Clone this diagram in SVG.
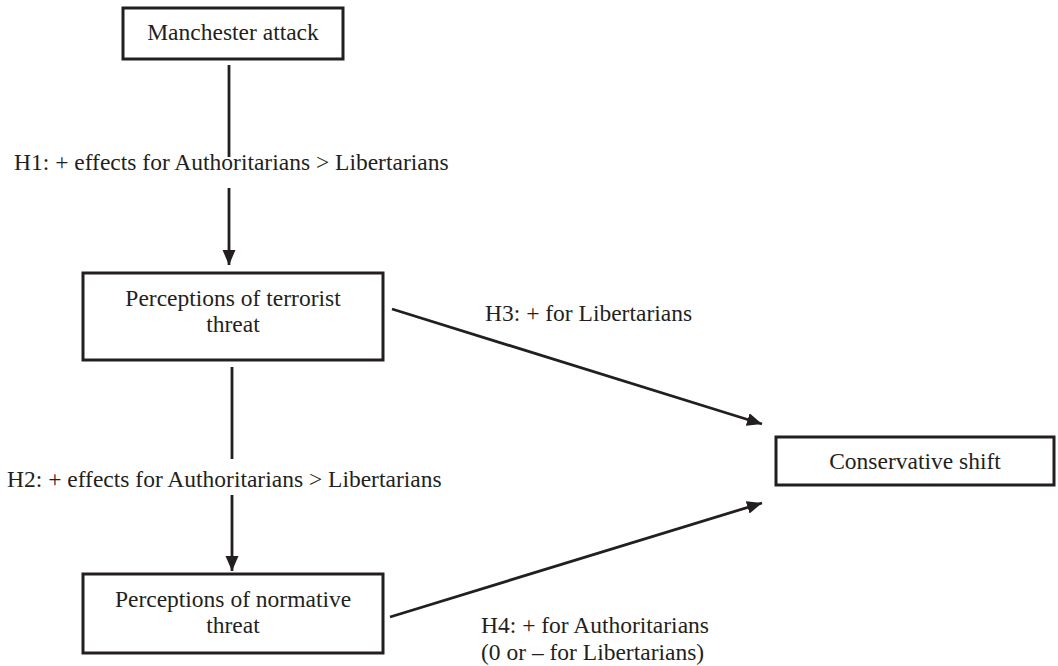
<svg xmlns="http://www.w3.org/2000/svg" width="1058" height="666" viewBox="0 0 1058 666">
<style>
.box{fill:#fff;stroke:#231f20;stroke-width:3}
text{font-family:'Liberation Serif','Times New Roman',serif;font-size:23.5px;fill:#231f20}
.c{text-anchor:middle}
.ln{stroke:#231f20;stroke-width:2.8;fill:none}
</style>
<defs>
<marker id="ah" markerUnits="userSpaceOnUse" markerWidth="15" markerHeight="14" viewBox="0 0 15 13" refX="15" refY="6.5" orient="auto">
<path d="M0,0 L15,6.5 L0,13 z" fill="#231f20"/>
</marker>
</defs>
<rect width="1058" height="666" fill="#fff"/>
<g id="connectors">
<line class="ln" x1="229" y1="65" x2="229" y2="157"/>
<line class="ln" x1="229" y1="188" x2="229" y2="265" marker-end="url(#ah)"/>
<line class="ln" x1="232" y1="367" x2="232" y2="459"/>
<line class="ln" x1="232" y1="495" x2="232" y2="571" marker-end="url(#ah)"/>
<line class="ln" x1="392" y1="309" x2="762" y2="424" marker-end="url(#ah)"/>
<line class="ln" x1="390" y1="617" x2="762" y2="503" marker-end="url(#ah)"/>
<text x="14" y="170">H1: + effects for Authoritarians &gt; Libertarians</text>
<text x="7" y="487">H2: + effects for Authoritarians &gt; Libertarians</text>
<text x="485" y="321">H3: + for Libertarians</text>
<text x="481" y="633">H4: + for Authoritarians</text>
<text x="481" y="660">(0 or – for Libertarians)</text>
</g>
<g id="manchester">
<rect class="box" x="123" y="8" width="220" height="51"/>
<text class="c" x="233" y="40">Manchester attack</text>
</g>
<g id="terrorist">
<rect class="box" x="83" y="273" width="300" height="87"/>
<text class="c" x="233" y="306">Perceptions of terrorist</text>
<text class="c" x="233" y="332">threat</text>
</g>
<g id="normative">
<rect class="box" x="83" y="574" width="300" height="79"/>
<text class="c" x="233" y="607">Perceptions of normative</text>
<text class="c" x="233" y="633">threat</text>
</g>
<g id="conservative">
<rect class="box" x="776" y="437" width="278" height="48"/>
<text class="c" x="915" y="469">Conservative shift</text>
</g>
</svg>
